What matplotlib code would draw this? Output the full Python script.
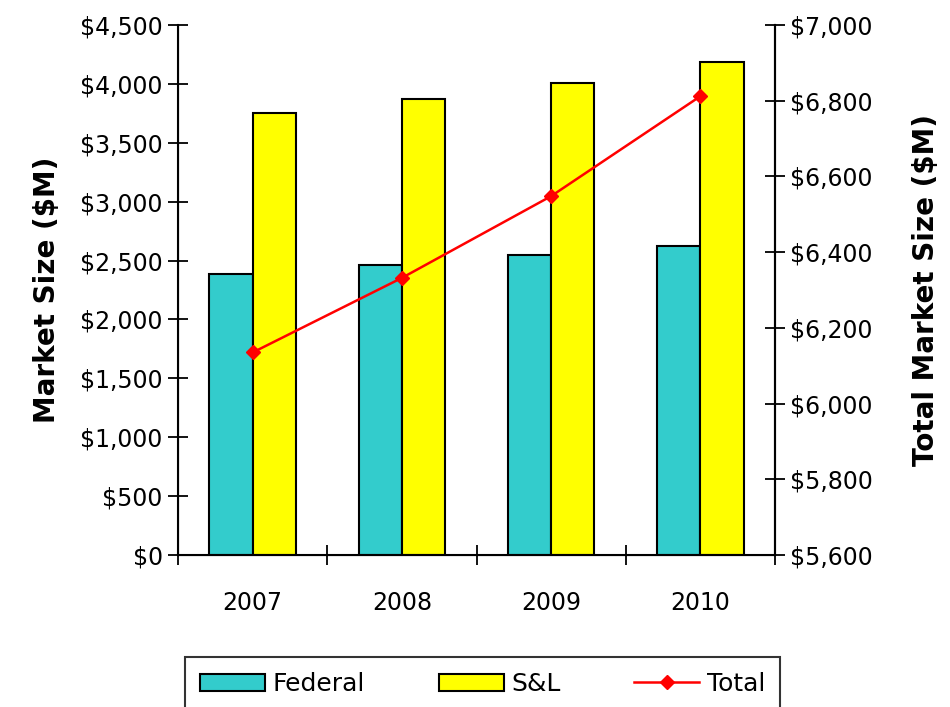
import numpy as np
import matplotlib
matplotlib.use('Agg')
import matplotlib.pyplot as plt
from matplotlib.ticker import FuncFormatter, FixedLocator

years = ['2007', '2008', '2009', '2010']
federal = [2390, 2465, 2550, 2625]
sl = [3750, 3870, 4005, 4185]
total = [6135, 6332, 6548, 6812]

plt.rcParams['font.family'] = ['DejaVu Sans']

fig = plt.figure(figsize=(9.5, 7.07), dpi=100)
ax = fig.add_axes([0.1874, 0.215, 0.6284, 0.7496])
x = np.arange(len(years))
w = 0.29
ax.bar(x - w/2, federal, w, color='#33CCCC', edgecolor='black', linewidth=1.5, label='Federal', zorder=2)
ax.bar(x + w/2, sl, w, color='#FFFF00', edgecolor='black', linewidth=1.5, label='S&L', zorder=2)
ax.set_xlim(-0.5, len(years) - 0.5)
ax.set_ylim(0, 4500)
ax.set_yticks(np.arange(0, 4501, 500))
money = FuncFormatter(lambda v, p: '${:,.0f}'.format(v))
ax.yaxis.set_major_formatter(money)
ax.set_xticks(x)
ax.set_xticklabels(years)
ax.xaxis.set_minor_locator(FixedLocator(np.arange(-0.5, len(years), 1.0)))
ax.tick_params(axis='x', which='major', length=0, labelsize=17, pad=26)
ax.tick_params(axis='x', which='minor', direction='inout', length=14, width=1.3)
ax.tick_params(axis='y', direction='inout', length=14, width=1.3, labelsize=17, pad=4)
ax.spines['top'].set_visible(False)
for s in ['left', 'right', 'bottom']:
    ax.spines[s].set_linewidth(1.5)
ax.set_ylabel('Market Size ($M)', fontsize=20, fontweight='bold', labelpad=14)

ax2 = ax.twinx()
ax2.plot(x, total, color='#FF0000', marker='D', markersize=7, linewidth=1.8, label='Total', zorder=3)
ax2.set_ylim(5600, 7000)
ax2.set_yticks(np.arange(5600, 7001, 200))
ax2.yaxis.set_major_formatter(money)
ax2.tick_params(axis='y', direction='inout', length=14, width=1.3, labelsize=17, pad=4)
ax2.spines['top'].set_visible(False)
ax2.spines['right'].set_linewidth(1.5)
ax2.set_ylabel('Total Market Size ($M)', fontsize=20, fontweight='bold', labelpad=28)

h1, l1 = ax.get_legend_handles_labels()
h2, l2 = ax2.get_legend_handles_labels()
leg = fig.legend(h1 + h2, l1 + l2, loc='upper left', ncol=3, fontsize=18,
                 bbox_to_anchor=(185/950, 0, 595/950, 1 - 657/707), mode='expand',
                 borderaxespad=0, frameon=True, fancybox=False, edgecolor='black',
                 handlelength=2.6, handletextpad=0.3, borderpad=0.6)
leg.get_frame().set_linewidth(1.5)

fig.savefig('out.png', dpi=100)
